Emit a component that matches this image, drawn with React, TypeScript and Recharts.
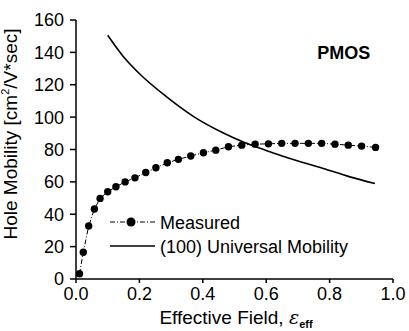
import React from "react";
import {
  LineChart,
  Line,
  XAxis,
  YAxis,
  Legend,
  ReferenceDot,
} from "recharts";

const measuredField = [0.011, 0.023, 0.04, 0.058, 0.076, 0.1, 0.126, 0.155, 0.186, 0.22, 0.252, 0.288, 0.323, 0.362, 0.402, 0.441, 0.481, 0.523, 0.565, 0.607, 0.649, 0.691, 0.733, 0.775, 0.817, 0.859, 0.901, 0.945];
const measuredMobility = [3.2, 16.5, 32.7, 43.2, 49.8, 53.9, 57.0, 60.0, 62.5, 65.8, 68.7, 71.8, 73.9, 76.0, 78.0, 79.6, 81.7, 82.7, 83.3, 83.5, 83.8, 83.8, 83.8, 83.8, 83.3, 82.7, 82.1, 81.3];

const universalField = [0.1, 0.149, 0.202, 0.286, 0.37, 0.465, 0.528, 0.57, 0.622, 0.675, 0.78, 0.864, 0.943];
const universalMobility = [150.6, 137.5, 126.5, 112.5, 100.5, 90.2, 84.6, 81.5, 77.8, 74.5, 68.3, 63.1, 59.0];

const xTicks = [0, 0.2, 0.4, 0.6, 0.8, 1.0];
const xMinorTicks = [0.1, 0.3, 0.5, 0.7, 0.9];
const yTicks = [0, 20, 40, 60, 80, 100, 120, 140, 160];
const yMinorTicks = [10, 30, 50, 70, 90, 110, 130, 150];

const measuredData = measuredField.map((x, i) => ({ x, y: measuredMobility[i] }));
const universalData = universalField.map((x, i) => ({ x, y: universalMobility[i] }));

const FONT = "'Liberation Sans', Arial, sans-serif";
const tickStyle = { fill: "#000", fontSize: 18, fontFamily: FONT };
const empty = () => "";

const LegendContent = () => (
  <svg width={260} height={50} style={{ overflow: "visible" }}>
    <g>
      <line x1={2} y1={12} x2={47} y2={12} stroke="#000" strokeWidth={1} strokeDasharray="5 2 1 2" />
      <circle cx={23} cy={12} r={4.5} fill="#000" />
      <text x={52} y={18.5} fontSize={18} fontFamily={FONT} fill="#000">Measured</text>
    </g>
    <g>
      <line x1={2} y1={36} x2={47} y2={36} stroke="#000" strokeWidth={1.5} />
      <text x={52} y={42.5} fontSize={18} fontFamily={FONT} fill="#000">(100) Universal Mobility</text>
    </g>
  </svg>
);

export default function App() {
  return (
    <div style={{ position: "absolute", left: 0, top: 0, background: "#fff" }}>
      <LineChart
        width={409}
        height={331}
        margin={{ top: 20, right: 16, bottom: 22, left: 26 }}
        style={{ fontFamily: FONT }}
      >
        <XAxis
          xAxisId="minorX"
          dataKey="x"
          type="number"
          domain={[0, 1]}
          ticks={xMinorTicks}
          tickFormatter={empty}
          tickSize={3}
          height={0}
          stroke="#000"
          axisLine={false}
        />
        <XAxis
          xAxisId="main"
          dataKey="x"
          type="number"
          domain={[0, 1]}
          ticks={xTicks}
          tickFormatter={(v: number) => v.toFixed(1)}
          tick={tickStyle}
          tickSize={4}
          tickMargin={4}
          height={30}
          stroke="#000"
          strokeWidth={1.5}
          allowDataOverflow
          label={{
            content: () => (
              <text x={236} y={324} fontSize={19} fontFamily={FONT} fill="#000" textAnchor="middle">
                <tspan>Effective Field, </tspan>
                <tspan fontStyle="italic" fontFamily="'DejaVu Serif', serif">ε</tspan>
                <tspan fontSize={11} dy={4} fontWeight="bold">eff</tspan>
              </text>
            ),
          }}
        />
        <XAxis
          xAxisId="top"
          orientation="top"
          dataKey="x"
          type="number"
          domain={[0, 1]}
          ticks={xTicks}
          tickFormatter={empty}
          tickSize={4}
          mirror
          height={0}
          stroke="#000"
          strokeWidth={1.5}
        />
        <YAxis
          yAxisId="minorY"
          type="number"
          domain={[0, 160]}
          ticks={yMinorTicks}
          tickFormatter={empty}
          tickSize={3}
          width={0}
          axisLine={false}
          stroke="#000"
        />
        <YAxis
          yAxisId="main"
          type="number"
          domain={[0, 160]}
          ticks={yTicks}
          tick={tickStyle}
          tickSize={6}
          tickMargin={6}
          width={50}
          stroke="#000"
          strokeWidth={1.5}
          label={{
            content: () => (
              <text
                x={17}
                y={134}
                transform="rotate(-90 17 134)"
                fontSize={19}
                fontFamily={FONT}
                fill="#000"
                textAnchor="middle"
              >
                <tspan>Hole Mobility [cm</tspan>
                <tspan fontSize={11} dy={-8}>2</tspan>
                <tspan dy={8}>/V*sec]</tspan>
              </text>
            ),
          }}
        />
        <YAxis
          yAxisId="right"
          orientation="right"
          type="number"
          domain={[0, 160]}
          ticks={yTicks}
          tickFormatter={empty}
          tickSize={4}
          mirror
          width={0}
          stroke="#000"
          strokeWidth={1.5}
        />
        <Line
          xAxisId="main"
          yAxisId="main"
          data={universalData}
          dataKey="y"
          type="monotone"
          stroke="#000"
          strokeWidth={1.6}
          dot={false}
          isAnimationActive={false}
          name="(100) Universal Mobility"
        />
        <Line
          xAxisId="main"
          yAxisId="main"
          data={measuredData}
          dataKey="y"
          type="linear"
          stroke="#000"
          strokeWidth={1}
          strokeDasharray="5 2 1 2"
          dot={{ r: 3.7, fill: "#000", stroke: "none" }}
          isAnimationActive={false}
          name="Measured"
        />
        <ReferenceDot
          xAxisId="main"
          yAxisId="main"
          x={0.845}
          y={140}
          r={0}
          stroke="none"
          fill="none"
          label={{ value: "PMOS", position: "center", fontSize: 18, fontWeight: "bold", fontFamily: FONT, fill: "#000" }}
        />
        <Legend
          layout="horizontal"
          verticalAlign="middle"
          align="center"
          content={LegendContent}
          wrapperStyle={{ position: "absolute", left: 108, top: 210, width: 260, height: 50 }}
        />
      </LineChart>
    </div>
  );
}
